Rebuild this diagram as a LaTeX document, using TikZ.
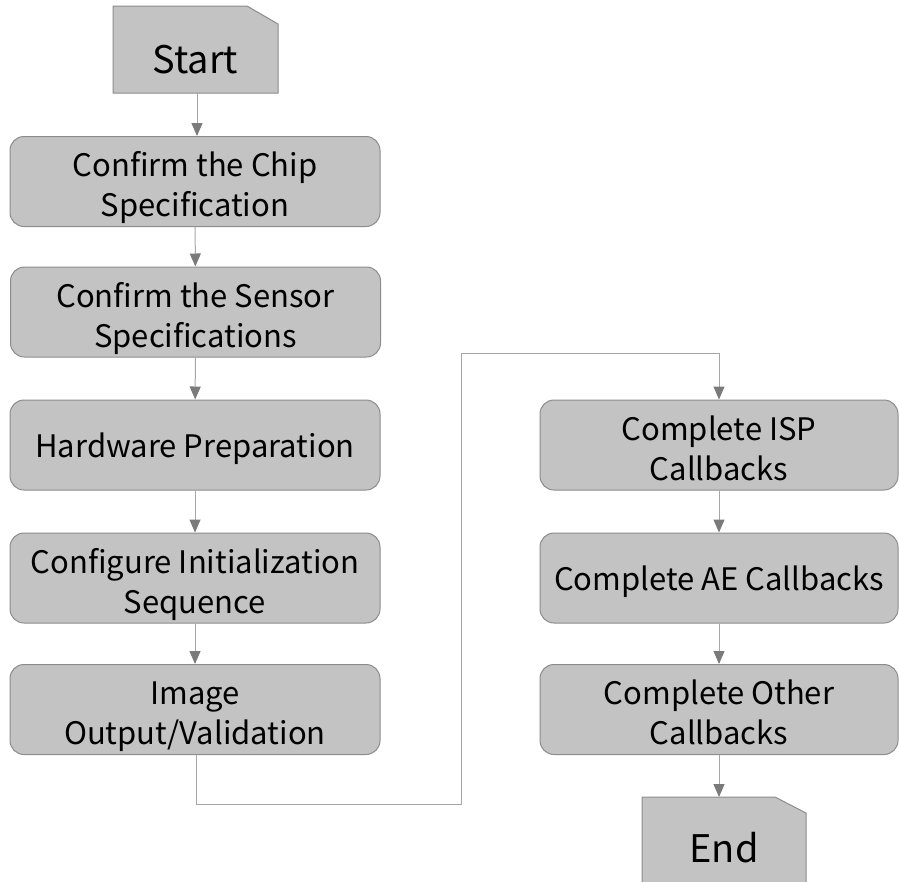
\documentclass[tikz,border=0pt]{standalone}
\usepackage{fontspec}
\setmainfont{Noto Sans CJK SC}
\usetikzlibrary{arrows.meta}
\definecolor{boxfill}{HTML}{C3C3C3}
\definecolor{boxline}{HTML}{8C8C8C}
\definecolor{conn}{HTML}{A6A6A6}
\definecolor{tipc}{HTML}{7A7A7A}
\tikzset{
  stepbox/.style={draw=boxline, fill=boxfill, rounded corners=14pt, line width=1pt,
    minimum height=90pt, align=center, font=\fontsize{31}{40}\selectfont, inner sep=0pt},
  leftbox/.style={stepbox, minimum width=370pt},
  rightbox/.style={stepbox, minimum width=358pt},
  termtext/.style={font=\fontsize{38}{44}\selectfont, inner sep=0pt},
  conn/.style={draw=conn, line width=1pt, -{Triangle[width=11pt,length=13pt,color=tipc]}},
}
\newcommand{\dn}[1]{\raisebox{-7pt}[\height][\depth]{\begin{tabular}{@{}c@{}}#1\end{tabular}}}
\newcommand{\sn}[1]{\raisebox{-4pt}[\height][\depth]{#1}}
\begin{document}
\begin{tikzpicture}[x=1pt,y=-1pt]
\useasboundingbox (0,0) rectangle (899,881);
\clip (0,0) rectangle (899,881);
% Start terminal
\fill[boxfill,draw=boxline,line width=1pt] (113,93) -- (113,6) -- (247,6) -- (278,24) -- (278,93) -- cycle;
\node[termtext, minimum width=165pt, minimum height=87pt] (start) at (195.5,60) {Start};
% left column
\node[leftbox] (b1) at (195,181.5) {\dn{Confirm the Chip\\Specification}};
\node[leftbox] (b2) at (195.5,312) {\dn{Confirm the Sensor\\Specifications}};
\node[leftbox] (b3) at (195,445) {\sn{Hardware Preparation}};
\node[leftbox] (b4) at (195,578) {\dn{Configure Initialization\\Sequence}};
\node[leftbox] (b5) at (195,709.5) {\dn{Image\\Output/Validation}};
% right column
\node[rightbox] (b6) at (719,445) {\dn{Complete ISP\\Callbacks}};
\node[rightbox] (b7) at (719,578) {\sn{Complete AE Callbacks}};
\node[rightbox] (b8) at (719,709.5) {\dn{Complete Other\\Callbacks}};
% End terminal
\fill[boxfill,draw=boxline,line width=1pt] (642,895) -- (642,797) -- (775,797) -- (806,813) -- (806,895) -- cycle;
\node[termtext, minimum width=164pt, minimum height=98pt] (end) at (724,848) {End};
% connectors
\draw[conn] (197,93) -- (197,136);
\draw[conn] (b1) -- (b2);
\draw[conn] (b2) -- (b3);
\draw[conn] (b3) -- (b4);
\draw[conn] (b4) -- (b5);
\coordinate (c1) at (196,804);
\coordinate (c2) at (461,804);
\coordinate (c3) at (461,353);
\coordinate (c4) at (719,353);
\draw[conn] (b5.south -| c1) -- (c1) -- (c2) -- (c3) -- (c4) -- (b6.north);
\draw[conn] (b6) -- (b7);
\draw[conn] (b7) -- (b8);
\draw[conn] (b8.south) -- (719,797);
\end{tikzpicture}
\end{document}
